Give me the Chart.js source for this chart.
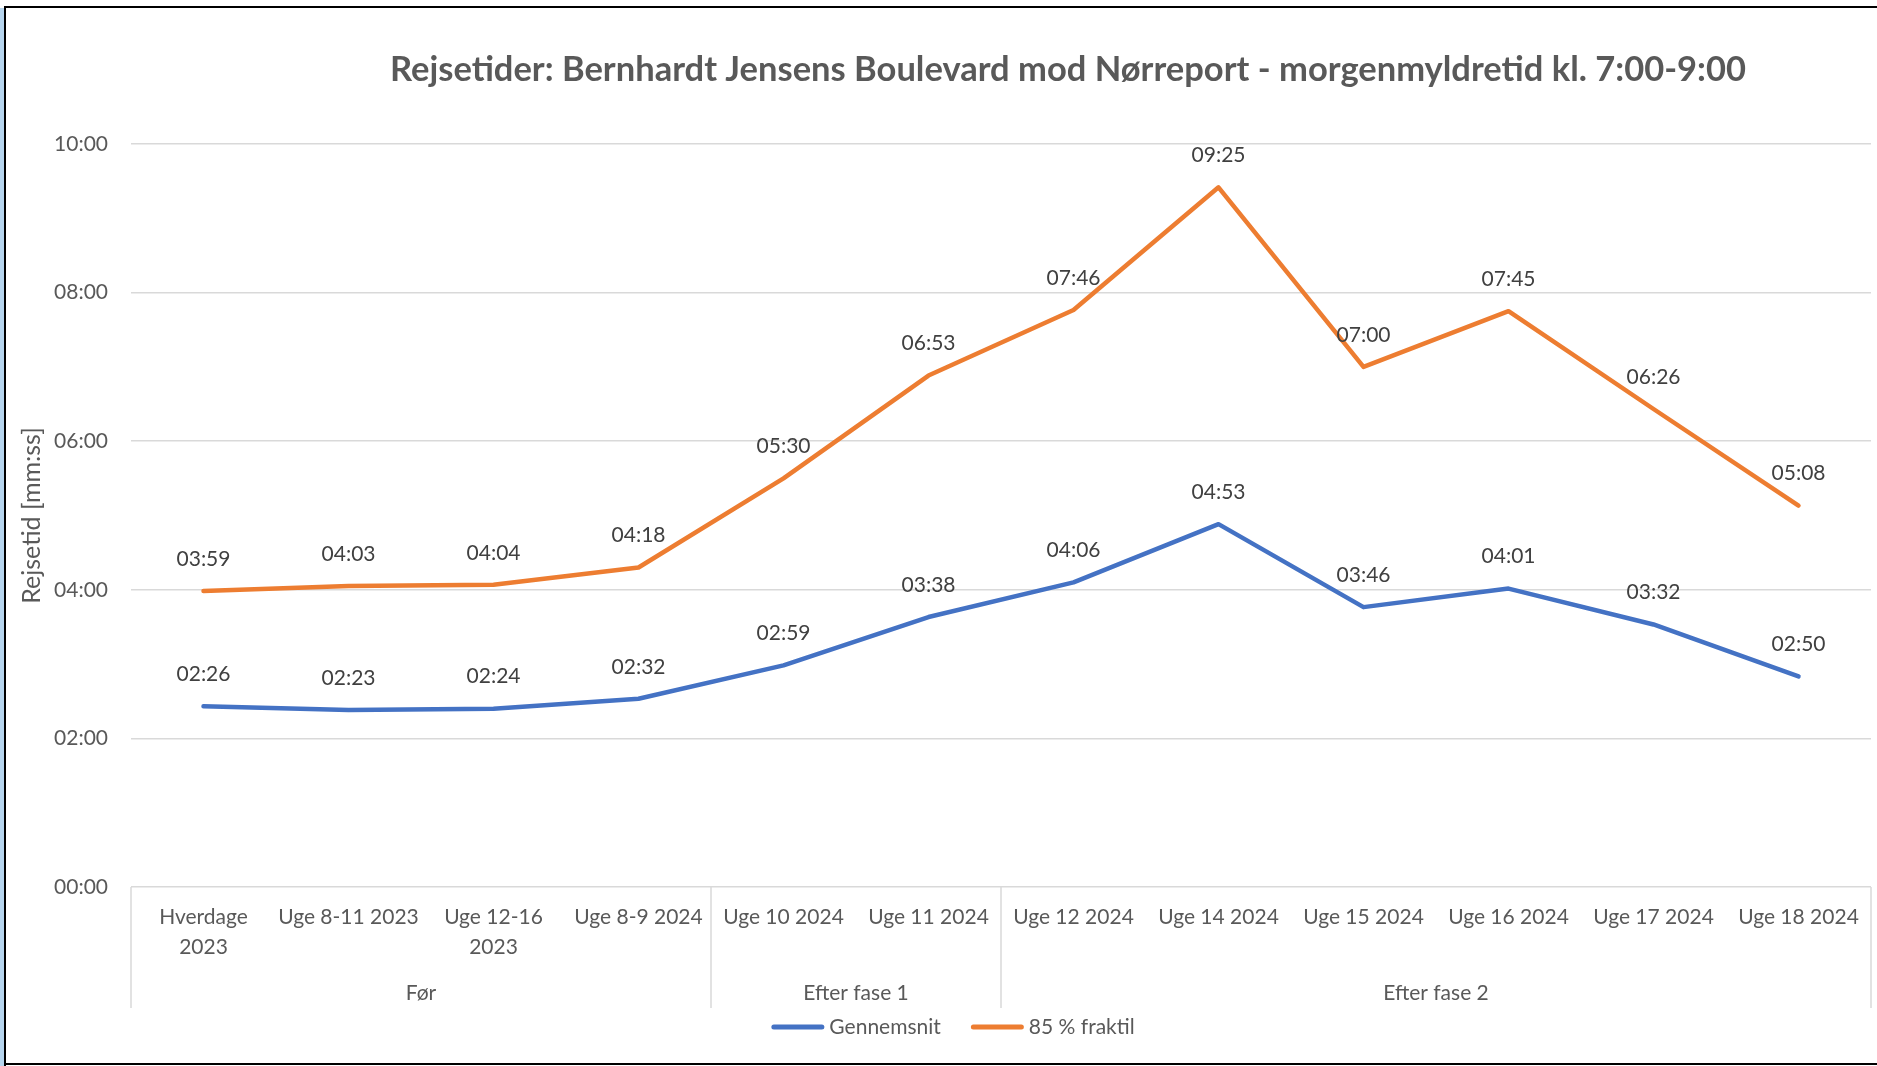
<!DOCTYPE html>
<html><head><meta charset="utf-8">
<script src="https://cdn.jsdelivr.net/npm/chart.js@4.4.1/dist/chart.umd.min.js"></script>
<style>
html,body{margin:0;padding:0;background:#fff;overflow:hidden;}
#wrap{position:relative;width:1877px;height:1066px;}
canvas{position:absolute;left:0;top:0;}
.strip{position:absolute;left:0;top:8px;width:4px;height:1058px;background:#b6d5ee;}
.bl{position:absolute;left:4px;top:6px;width:2px;height:1060px;background:#000;}
.bt{position:absolute;left:4px;top:6px;width:1873px;height:2px;background:#000;}
.bb{position:absolute;left:4px;top:1063px;width:1873px;height:2px;background:#000;}
</style></head>
<body><div id="wrap"><canvas id="c" width="1877" height="1066"></canvas><div class="strip"></div><div class="bl"></div><div class="bt"></div><div class="bb"></div></div>
<script>
const titleText = 'Rejsetider: Bernhardt Jensens Boulevard mod Nørreport - morgenmyldretid kl. 7:00-9:00';
const yAxisTitle = 'Rejsetid [mm:ss]';
const categories = [['Hverdage','2023'],'Uge 8-11 2023',['Uge 12-16','2023'],'Uge 8-9 2024','Uge 10 2024','Uge 11 2024','Uge 12 2024','Uge 14 2024','Uge 15 2024','Uge 16 2024','Uge 17 2024','Uge 18 2024'];
const groupLabels = ['Før','Efter fase 1','Efter fase 2'];
const groupSizes = [4,2,6];
const seriesNames = ['Gennemsnit','85 % fraktil'];
// travel times in seconds
const gennemsnit = [146,143,144,152,179,218,246,293,226,241,212,170];
const fraktil85  = [239,243,244,258,330,413,466,565,420,465,386,308];
const yTickValues = [0,120,240,360,480,600];

const BLUE = '#4472C4', ORANGE = '#ED7D31';
const FONT = 'Lato, "Open Sans", sans-serif';
const fmt = s => String(Math.floor(s/60)).padStart(2,'0') + ':' + String(s%60).padStart(2,'0');

const deco = {
  id: 'deco',
  afterDraw(chart) {
    const ctx = chart.ctx, x = chart.scales.x, ca = chart.chartArea;
    ctx.save();
    // title
    ctx.font = 'bold 34.5px ' + FONT;
    ctx.fillStyle = '#595959';
    ctx.textAlign = 'center';
    ctx.textBaseline = 'middle';
    ctx.fillText(titleText, 1068, 70);
    // data labels
    ctx.font = '21px ' + FONT;
    ctx.fillStyle = '#404040';
    chart.data.datasets.forEach((ds, i) => {
      const meta = chart.getDatasetMeta(i);
      meta.data.forEach((pt, j) => ctx.fillText(fmt(ds.data[j]), pt.x, pt.y - 32));
    });
    // group separators + labels
    const bounds = [x.left];
    let idx = 0;
    groupSizes.forEach(n => {
      idx += n;
      bounds.push(idx >= categories.length ? x.right : (x.getPixelForValue(idx - 1) + x.getPixelForValue(idx)) / 2);
    });
    ctx.strokeStyle = '#d9d9d9';
    ctx.lineWidth = 1.5;
    bounds.forEach(b => { ctx.beginPath(); ctx.moveTo(b, ca.bottom); ctx.lineTo(b, 1008); ctx.stroke(); });
    ctx.fillStyle = '#595959';
    groupLabels.forEach((g, k) => ctx.fillText(g, (bounds[k] + bounds[k + 1]) / 2, 993));
    // legend
    const items = chart.data.datasets.map(d => ({ t: d.label, c: d.borderColor }));
    const lineLen = 53, gap = 5, itemGap = 30;
    const widths = items.map(it => ctx.measureText(it.t).width);
    let total = itemGap * (items.length - 1);
    widths.forEach(w => total += lineLen + gap + w);
    let lx = 953 - total / 2;
    const ly = 1027;
    ctx.textAlign = 'left';
    items.forEach((it, k) => {
      ctx.strokeStyle = it.c; ctx.lineWidth = 5; ctx.lineCap = 'round';
      ctx.beginPath(); ctx.moveTo(lx + 2.5, ly); ctx.lineTo(lx + lineLen - 2.5, ly); ctx.stroke();
      ctx.fillStyle = '#595959';
      ctx.fillText(it.t, lx + lineLen + gap, ly);
      lx += lineLen + gap + widths[k] + itemGap;
    });
    ctx.restore();
  }
};

new Chart(document.getElementById('c'), {
  type: 'line',
  data: {
    labels: categories,
    datasets: [
      { label: seriesNames[0], data: gennemsnit, borderColor: BLUE, backgroundColor: BLUE, borderWidth: 4.5, pointRadius: 0, tension: 0, borderCapStyle: 'round', borderJoinStyle: 'round', fill: false },
      { label: seriesNames[1], data: fraktil85, borderColor: ORANGE, backgroundColor: ORANGE, borderWidth: 4.5, pointRadius: 0, tension: 0, borderCapStyle: 'round', borderJoinStyle: 'round', fill: false }
    ]
  },
  options: {
    responsive: false,
    animation: false,
    events: [],
    layout: { padding: { top: 144, left: 0, right: 6, bottom: 0 } },
    plugins: { legend: { display: false }, title: { display: false }, tooltip: { enabled: false } },
    scales: {
      x: {
        type: 'category',
        offset: true,
        grid: { display: false, drawTicks: false },
        border: { display: false },
        ticks: { color: '#595959', font: { family: FONT, size: 21, lineHeight: 1.4 }, padding: 16, maxRotation: 0, autoSkip: false },
        afterFit(s) { s.height = 179; }
      },
      y: {
        min: 0, max: 600,
        afterBuildTicks(s) { s.ticks = yTickValues.map(v => ({ value: v })); },
        grid: { color: '#d9d9d9', lineWidth: 1.5, drawTicks: false },
        border: { display: false },
        ticks: { color: '#595959', font: { family: FONT, size: 21 }, padding: 23, callback: v => fmt(v) },
        title: { display: true, text: yAxisTitle, color: '#595959', font: { family: FONT, size: 25 }, padding: { top: 17, bottom: 0 } },
        afterFit(s) { s.width = 131; }
      }
    }
  },
  plugins: [deco]
});
</script>
</body></html>
